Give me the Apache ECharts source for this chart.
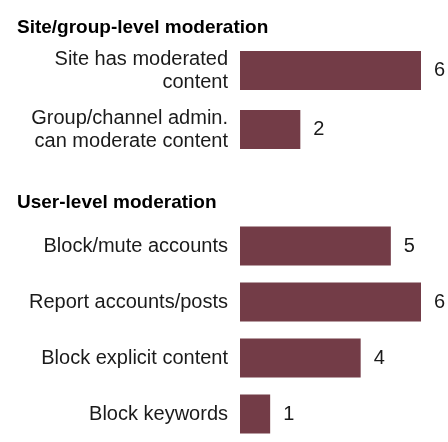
<!DOCTYPE html>
<html>
<head>
<meta charset="utf-8">
<script src="https://cdn.jsdelivr.net/npm/echarts@6/dist/echarts.min.js"></script>
<style>
html,body{margin:0;padding:0;background:#fff;}
#chart{width:448px;height:442px;}
</style>
</head>
<body>
<div id="chart"></div>
<script>
var headings = ['Site/group-level moderation', 'User-level moderation'];
var siteCategories = ['Site has moderated\ncontent', 'Group/channel admin.\ncan moderate content'];
var siteValues = [6, 2];
var userCategories = ['Block/mute accounts', 'Report accounts/posts', 'Block explicit content', 'Block keywords'];
var userValues = [5, 6, 4, 1];

var barColor = '#733c47';
var font = 'Liberation Sans, Arial, sans-serif';

function axisLabel() {
  return {color: '#1a1a1a', fontSize: 20, fontFamily: font, lineHeight: 23, margin: 12, align: 'right'};
}
function valueLabel() {
  return {show: true, position: 'right', rotate: 0, distance: 13, color: '#1a1a1a',
          fontSize: 20, fontFamily: font, align: 'left', verticalAlign: 'middle'};
}
function titleStyle() {
  return {fontSize: 19, fontWeight: 'bold', color: '#000', fontFamily: font, lineHeight: 24};
}

var chart = echarts.init(document.getElementById('chart'));
chart.setOption({
  animation: false,
  backgroundColor: '#fff',
  title: [
    {text: headings[0], left: 12, top: 11, textStyle: titleStyle()},
    {text: headings[1], left: 12, top: 186, textStyle: titleStyle()}
  ],
  grid: [
    {left: 240, right: 27, top: 41, height: 118, show: false},
    {left: 240, right: 27, top: 218, height: 238, show: false}
  ],
  xAxis: [
    {gridIndex: 0, type: 'value', min: 0, max: 6, show: false, splitLine: {show: false}},
    {gridIndex: 1, type: 'value', min: 0, max: 6, show: false, splitLine: {show: false}}
  ],
  yAxis: [
    {gridIndex: 0, type: 'category', inverse: true, data: siteCategories,
     axisLine: {show: false}, axisTick: {show: false}, splitLine: {show: false}, axisLabel: axisLabel()},
    {gridIndex: 1, type: 'category', inverse: true, data: userCategories,
     axisLine: {show: false}, axisTick: {show: false}, splitLine: {show: false}, axisLabel: axisLabel()}
  ],
  series: [
    {type: 'bar', xAxisIndex: 0, yAxisIndex: 0, data: siteValues, barWidth: 39,
     itemStyle: {color: barColor, borderWidth: 0}, label: valueLabel()},
    {type: 'bar', xAxisIndex: 1, yAxisIndex: 1, data: userValues, barWidth: 39,
     itemStyle: {color: barColor, borderWidth: 0}, label: valueLabel()}
  ]
});
</script>
</body>
</html>
